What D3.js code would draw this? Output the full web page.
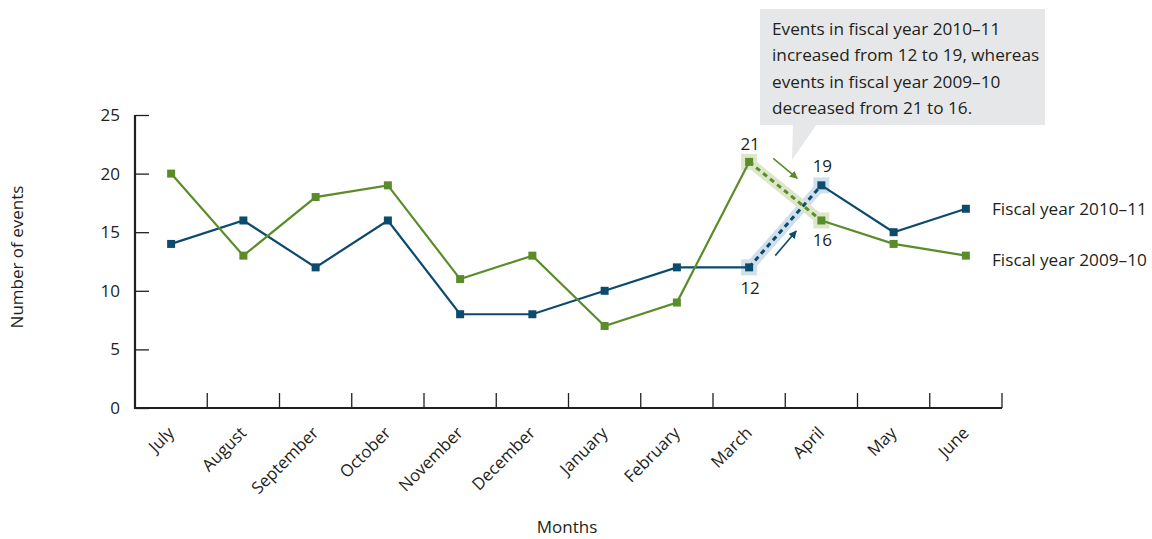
<!DOCTYPE html>
<html>
<head>
<meta charset="utf-8">
<script src="https://cdn.jsdelivr.net/npm/d3@7"></script>
<style>
  body { margin: 0; background: #fff; }
  text { font-family: "Open Sans", "Noto Sans", sans-serif; fill: #231f20; }
</style>
</head>
<body>
<div id="chart"></div>
<script>
// data
var months = ["July", "August", "September", "October", "November", "December",
  "January", "February", "March", "April", "May", "June"];
var fy1011 = [14, 16, 12, 16, 8, 8, 10, 12, 12, 19, 15, 17];
var fy0910 = [20, 13, 18, 19, 11, 13, 7, 9, 21, 16, 14, 13];
var seriesNames = ["Fiscal year 2010\u201311", "Fiscal year 2009\u201310"];
var yTicks = [0, 5, 10, 15, 20, 25];
var calloutLines = [
  "Events in fiscal year 2010\u201311",
  "increased from 12 to 19, whereas",
  "events in fiscal year 2009\u201310",
  "decreased from 21 to 16."
];
var hiFrom = "March", hiTo = "April";

var blue = "#0c4a6e", green = "#5b8c2a";
var blueHi = "#cfe0ec", greenHi = "#dce6c9";

var W = 1152, H = 539;
var svg = d3.select("#chart").append("svg")
  .attr("width", W).attr("height", H);

// scales
var x = d3.scaleBand().domain(months).range([135, 1002]).padding(0);
var y = d3.scaleLinear().domain([0, 25]).range([408, 115]);
var cx = function(m) { return x(m) + x.bandwidth() / 2; };

// y axis, ticks pointing inward
var yAxis = svg.append("g")
  .attr("transform", "translate(135,0)")
  .call(d3.axisLeft(y).tickValues(yTicks).tickSize(-14).tickPadding(15));
yAxis.select(".domain").remove();
yAxis.selectAll(".tick line").attr("stroke", "#231f20").attr("stroke-width", 1.3);
yAxis.selectAll(".tick text").attr("font-size", 17).attr("font-family", null).attr("fill", "#231f20");

// x axis labels
var xAxis = svg.append("g")
  .attr("transform", "translate(0,408)")
  .call(d3.axisBottom(x).tickSize(0).tickPadding(0));
xAxis.select(".domain").remove();
xAxis.selectAll(".tick text")
  .attr("font-size", 16.8).attr("font-family", null).attr("fill", "#231f20")
  .attr("text-anchor", "end")
  .attr("dy", null)
  .attr("transform", "translate(4,26) rotate(-45)");

// x tick marks at band boundaries, pointing up
var bounds = months.map(function(m) { return x(m) + x.bandwidth(); });
svg.selectAll(".xtick").data(bounds).enter().append("line")
  .attr("x1", function(d) { return d; }).attr("x2", function(d) { return d; })
  .attr("y1", 408).attr("y2", 393)
  .attr("stroke", "#231f20").attr("stroke-width", 1.3);

// axis lines
svg.append("path")
  .attr("d", "M135," + y(25) + "V" + y(0) + "H" + x.range()[1])
  .attr("fill", "none").attr("stroke", "#231f20").attr("stroke-width", 2.2);

// highlight bands for march -> april
var i0 = months.indexOf(hiFrom), i1 = months.indexOf(hiTo);
function hilite(vals, col) {
  svg.append("line")
    .attr("x1", cx(hiFrom)).attr("y1", y(vals[i0]))
    .attr("x2", cx(hiTo)).attr("y2", y(vals[i1]))
    .attr("stroke", col).attr("stroke-width", 10);
  [i0, i1].forEach(function(i) {
    svg.append("rect")
      .attr("x", cx(months[i]) - 8).attr("y", y(vals[i]) - 8)
      .attr("width", 16).attr("height", 16).attr("fill", col);
  });
}
hilite(fy1011, blueHi);
hilite(fy0910, greenHi);

// series lines
var line = d3.line()
  .x(function(d) { return cx(d.m); })
  .y(function(d) { return y(d.v); });

function drawSeries(vals, col) {
  var pts = months.map(function(m, i) { return { m: m, v: vals[i] }; });
  svg.append("path").datum(pts.slice(0, i0 + 1))
    .attr("d", line).attr("fill", "none").attr("stroke", col).attr("stroke-width", 2.2);
  svg.append("path").datum(pts.slice(i1))
    .attr("d", line).attr("fill", "none").attr("stroke", col).attr("stroke-width", 2.2);
  svg.append("path").datum(pts.slice(i0, i1 + 1))
    .attr("d", line).attr("fill", "none").attr("stroke", col).attr("stroke-width", 3)
    .attr("stroke-dasharray", "5,4");
  svg.selectAll(null).data(pts).enter().append("rect")
    .attr("x", function(d) { return cx(d.m) - 4; })
    .attr("y", function(d) { return y(d.v) - 4; })
    .attr("width", 8).attr("height", 8).attr("fill", col);
}
drawSeries(fy1011, blue);
drawSeries(fy0910, green);

// value labels around the highlighted change
var vlabels = [
  { m: hiFrom, v: fy0910[i0], dy: -12 },
  { m: hiTo, v: fy1011[i1], dy: -13 },
  { m: hiTo, v: fy0910[i1], dy: 26 },
  { m: hiFrom, v: fy1011[i0], dy: 27 }
];
svg.selectAll(".vlab").data(vlabels).enter().append("text")
  .attr("x", function(d) { return cx(d.m) + 1; })
  .attr("y", function(d) { return y(d.v) + d.dy; })
  .attr("text-anchor", "middle").attr("font-size", 17)
  .text(function(d) { return d.v; });

// little arrows
svg.append("defs").selectAll("marker").data([["ag", green], ["ab", blue]])
  .enter().append("marker")
  .attr("id", function(d) { return d[0]; })
  .attr("viewBox", "0 0 10 10").attr("refX", 9).attr("refY", 5)
  .attr("markerWidth", 5).attr("markerHeight", 5).attr("orient", "auto")
  .append("path").attr("d", "M0,0L10,5L0,10Z").attr("fill", function(d) { return d[1]; });

var mid = (cx(hiFrom) + cx(hiTo)) / 2;
svg.append("line")
  .attr("x1", mid - 12).attr("y1", y(21.3)).attr("x2", mid + 12).attr("y2", y(19.6))
  .attr("stroke", green).attr("stroke-width", 1.6).attr("marker-end", "url(#ag)");
svg.append("line")
  .attr("x1", mid - 10).attr("y1", y(13.0)).attr("x2", mid + 11).attr("y2", y(15.1))
  .attr("stroke", blue).attr("stroke-width", 1.6).attr("marker-end", "url(#ab)");

// callout box
var co = svg.append("g");
co.append("rect").attr("x", 760).attr("y", 9).attr("width", 285).attr("height", 116).attr("fill", "#e6e7e8");
co.append("path").attr("d", "M793,124L817,124L792,160Z").attr("fill", "#e6e7e8");
co.selectAll("text").data(calloutLines).enter().append("text")
  .attr("x", 772).attr("y", function(d, i) { return 35 + i * 26.3; })
  .attr("font-size", 17.2)
  .text(function(d) { return d; });

// legend at line ends
svg.selectAll(".leg").data([fy1011, fy0910]).enter().append("text")
  .attr("x", 992)
  .attr("y", function(d, i) { return y(d[d.length - 1]) + 6 + (i === 0 ? 0 : 4); })
  .attr("font-size", 17.2)
  .text(function(d, i) { return seriesNames[i]; });

// axis titles
svg.append("text").attr("x", 567).attr("y", 533).attr("text-anchor", "middle")
  .attr("font-size", 17).text("Months");
svg.append("text").attr("transform", "translate(23,257) rotate(-90)")
  .attr("text-anchor", "middle").attr("font-size", 17).text("Number of events");
</script>
</body>
</html>
